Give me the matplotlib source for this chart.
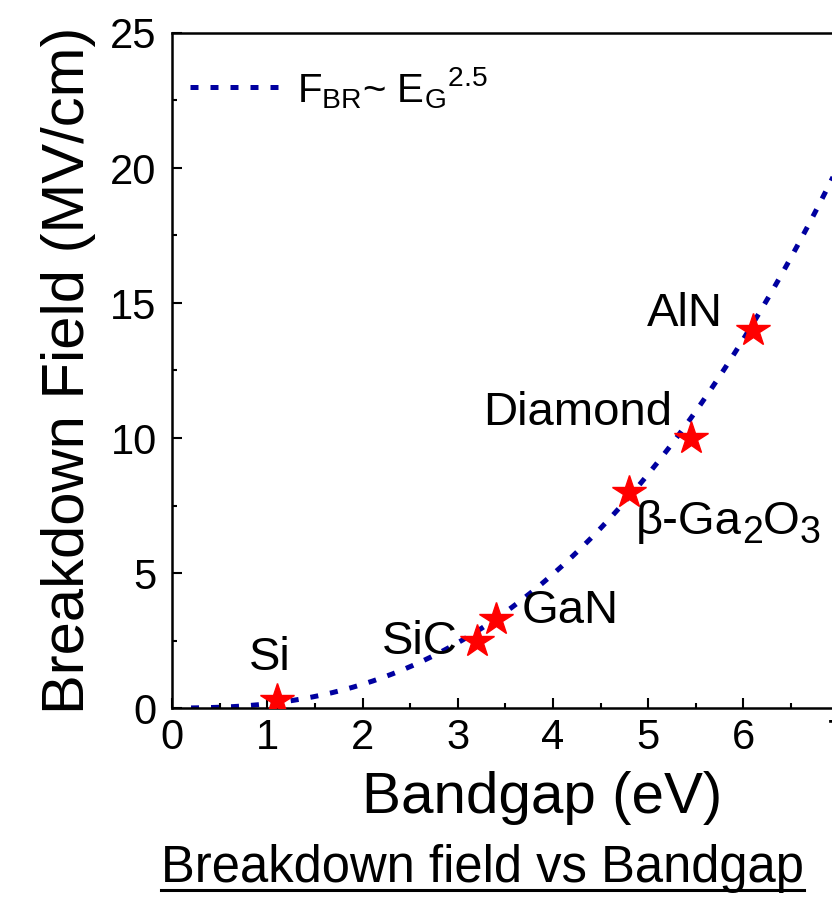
import numpy as np
import matplotlib
matplotlib.use("Agg")
import matplotlib.pyplot as plt
from matplotlib.lines import Line2D

plt.rcParams['font.family'] = ['Liberation Sans', 'DejaVu Sans']
plt.rcParams['mathtext.fontset'] = 'custom'
plt.rcParams['mathtext.rm'] = 'Liberation Sans'
plt.rcParams['mathtext.it'] = 'Liberation Sans:italic'
plt.rcParams['mathtext.bf'] = 'Liberation Sans:bold'

# Data
materials = ["Si", "SiC", "GaN", "β-Ga2O3", "Diamond", "AlN"]
bandgap = [1.1, 3.2, 3.4, 4.8, 5.45, 6.1]
breakdown = [0.3, 2.5, 3.3, 8.0, 10.0, 14.0]
# label anchor positions (data coords, baseline)
label_x = [1.03, 2.6, 4.18, 4.87, 4.26, 5.39]
label_y = [1.4, 2.0, 3.15, 6.45, 10.48, 14.15]
label_ha = ["center", "center", "center", "left", "center", "center"]

# power-law fit F_BR = k * E_G^2.5
fit_k = 0.155
fit_exp = 2.5
fit_x = np.linspace(0.2, 8.0, 300)
fit_y = fit_k * fit_x ** fit_exp

W, H = 832, 897
fig = plt.figure(figsize=(W / 100, H / 100), dpi=100)
x0, x1 = 172, 934
y0, y1 = 708, 33
ax = fig.add_axes([x0 / W, 1 - y0 / H, (x1 - x0) / W, (y0 - y1) / H])

navy = "#0000A0"
dots = (0, (1.6, 2.4))
ax.plot(fit_x, fit_y, color=navy, lw=3.6, linestyle=dots, zorder=2)
ax.plot(bandgap, breakdown, linestyle="none", marker="*", markersize=25,
        color="#FF0000", markeredgecolor="#FF0000", zorder=3)

ax.set_xlim(0, 8)
ax.set_ylim(0, 25)
ax.set_xticks([0, 1, 2, 3, 4, 5, 6, 7])
ax.set_yticks([0, 5, 10, 15, 20, 25])
ax.set_xticks(np.arange(0.5, 8, 1.0), minor=True)
ax.set_yticks(np.arange(2.5, 25, 5.0), minor=True)
ax.tick_params(which="both", direction="in", width=1.5, labelsize=30)
ax.tick_params(which="major", length=7)
ax.tick_params(which="minor", length=3.5)
ax.tick_params(axis="x", pad=7)
ax.tick_params(axis="y", pad=11)
for s in ax.spines.values():
    s.set_linewidth(1.8)

ax.set_xlabel("Bandgap (eV)", fontsize=42)
ax.set_ylabel("Breakdown Field (MV/cm)", fontsize=43, labelpad=10)
ax.xaxis.set_label_coords((542 - x0) / (x1 - x0), -(771 - y0) / (y0 - y1))

fig.canvas.draw()
renderer = fig.canvas.get_renderer()

def seg_text(x, y, segments):
    """Draw a sequence of (text, size, dy_px) segments starting at data (x, y) baseline-left."""
    px, py = ax.transData.transform((x, y))
    for s, size, dy in segments:
        t = fig.text(px / W, (py + dy) / H, s, fontsize=size, ha="left", va="baseline")
        bb = t.get_window_extent(renderer)
        px = bb.x1

for name, lx, ly, ha in zip(materials, label_x, label_y, label_ha):
    if name == "β-Ga2O3":
        seg_text(lx, ly, [("β-Ga", 34, 0), ("2", 27, -9), ("O", 34, 0), ("3", 27, -9)])
    else:
        ax.text(lx, ly, name, fontsize=34, ha=ha, va="baseline", color="black")

# legend (manual)
fig.add_artist(Line2D([190 / W, 284 / W], [1 - 87 / H, 1 - 87 / H], color=navy,
                      lw=3.6, linestyle=dots, transform=fig.transFigure))
fig.text(297 / W, 1 - 102 / H, r"F$_{\mathrm{BR}}$~ E$_{\mathrm{G}}$$^{2.5}$",
         fontsize=29, ha="left", va="baseline")

title = fig.text(482 / W, 1 - 882 / H, "Breakdown field vs Bandgap", fontsize=36.5,
                 ha="center", va="baseline")
fig.canvas.draw()
bb = title.get_window_extent()
uy = 1 - 890 / H
fig.add_artist(Line2D([bb.x0 / W, bb.x1 / W], [uy, uy], color="black", lw=2.2,
                      transform=fig.transFigure))

fig.savefig("out.png", dpi=100)
